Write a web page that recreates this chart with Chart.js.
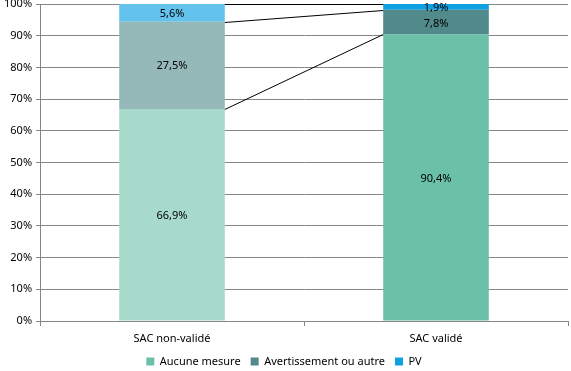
<!DOCTYPE html>
<html><head><meta charset="utf-8">
<script src="https://cdn.jsdelivr.net/npm/chart.js@4/dist/chart.umd.min.js"></script>
<style>html,body{margin:0;padding:0;background:#fff}#wrap{width:571px;height:371px}</style>
</head><body><div id="wrap"><canvas id="c" width="571" height="371"></canvas></div>
<script>
const categories = ["SAC non-validé", "SAC validé"];
const seriesNames = ["Aucune mesure", "Avertissement ou autre", "PV"];
const aucune = [66.9, 90.4];
const avert = [27.5, 7.8];
const pv = [5.6, 1.9];
const yTicks = [0,10,20,30,40,50,60,70,80,90,100];

const lightColors = ["#a8dacb", "#95b8b9", "#63c3ed"];
const darkColors = ["#6bc0a8", "#508a8a", "#0ea0e0"];
const values = [aucune, avert, pv];
const FONT = '"Noto Sans", "DejaVu Sans", sans-serif';

const fmt = v => v.toFixed(1).replace('.', ',') + '%';

const labelPlugin = {
  id: 'labels',
  afterDatasetsDraw(chart) {
    const ctx = chart.ctx;
    ctx.save();
    ctx.strokeStyle = '#000';
    ctx.lineWidth = 1;
    chart.data.datasets.forEach((ds, i) => {
      const meta = chart.getDatasetMeta(i);
      const a = meta.data[0], b = meta.data[1];
      ctx.beginPath();
      ctx.moveTo(a.x + a.width/2, Math.round(a.y) + 0.5);
      ctx.lineTo(b.x - b.width/2, Math.round(b.y) + 0.5);
      ctx.stroke();
    });
    ctx.fillStyle = '#000';
    ctx.font = '11px ' + FONT;
    ctx.textAlign = 'center';
    ctx.textBaseline = 'middle';
    chart.data.datasets.forEach((ds, i) => {
      const meta = chart.getDatasetMeta(i);
      meta.data.forEach((el, j) => {
        let y = (el.y + el.base) / 2;
        if (j === 1 && i === 2) y = el.y + 3;
        if (j === 1 && i === 1) y = (el.y + el.base) / 2 + 1;
        ctx.fillText(fmt(ds.data[j]), el.x, y + 1);
      });
    });
    ctx.restore();
  }
};

new Chart(document.getElementById('c'), {
  type: 'bar',
  data: {
    labels: categories,
    datasets: seriesNames.map((n, i) => ({
      label: n,
      data: values[i],
      backgroundColor: [lightColors[i], darkColors[i]],
      borderWidth: 0,
      categoryPercentage: 1,
      barPercentage: 0.4
    }))
  },
  options: {
    responsive: false,
    animation: false,
    layout: { padding: { top: 4, right: 3, left: 0, bottom: -6 } },
    plugins: {
      legend: {
        position: 'bottom',
        labels: {
          boxWidth: 8, boxHeight: 8, padding: 10,
          color: '#000',
          font: { family: FONT, size: 11 },
          generateLabels: chart => chart.data.datasets.map((ds, i) => ({
            text: ds.label, fillStyle: darkColors[i], strokeStyle: darkColors[i], lineWidth: 0, datasetIndex: i
          }))
        }
      },
      tooltip: { enabled: false }
    },
    scales: {
      x: {
        stacked: true,
        offset: true,
        afterFit: s => { s.height = 25; },
        grid: { display: true, drawOnChartArea: false, drawTicks: true, tickLength: 5, color: '#868686', offset: true },
        border: { color: '#868686' },
        ticks: { color: '#000', font: { family: FONT, size: 11 }, padding: 6 }
      },
      y: {
        stacked: true,
        min: 0, max: 100,
        afterBuildTicks: s => { s.ticks = yTicks.map(v => ({ value: v })); },
        afterFit: s => { s.paddingTop = 0; s.paddingBottom = 0; },
        grid: { color: '#868686', tickLength: 4 },
        border: { color: '#868686' },
        ticks: { color: '#000', font: { family: FONT, size: 11 }, padding: 4, callback: v => v + '%' }
      }
    }
  },
  plugins: [labelPlugin]
});
</script></body></html>
